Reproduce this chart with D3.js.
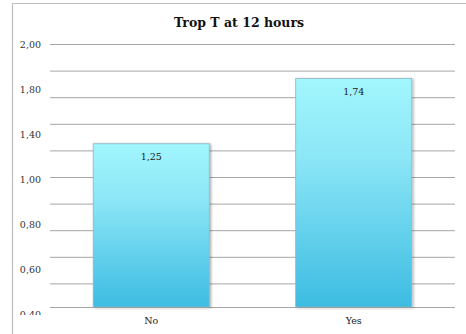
<!DOCTYPE html>
<html>
<head>
<meta charset="utf-8">
<script src="https://cdn.jsdelivr.net/npm/d3@7/dist/d3.min.js"></script>
<style>
  html, body { margin: 0; padding: 0; background: #fff; }
  svg { display: block; }
</style>
</head>
<body>
<script>
// Chart data
const categories = ["No", "Yes"];
const values = [1.25, 1.74];
const valueLabels = ["1,25", "1,74"];
const gridValues = [0, 0.2, 0.4, 0.6, 0.8, 1.0, 1.2, 1.4, 1.6, 1.8, 2.0];
const yTickLabels = ["2,00", "1,80", "1,40", "1,00", "0,80", "0,60", "0,40"];
const title = "Trop T at 12 hours";

const W = 466, H = 334;
const plot = { left: 50, right: 455, top: 44, bottom: 307 };
const font = "'DejaVu Serif', 'Liberation Serif', serif";

const svg = d3.select("body").append("svg")
  .attr("width", W).attr("height", H);

const defs = svg.append("defs");
const grad = defs.append("linearGradient")
  .attr("id", "barFill").attr("x1", 0).attr("y1", 0).attr("x2", 0).attr("y2", 1);
grad.append("stop").attr("offset", "0%").attr("stop-color", "#a2f6fd");
grad.append("stop").attr("offset", "35%").attr("stop-color", "#8be6f6");
grad.append("stop").attr("offset", "100%").attr("stop-color", "#3dbce2");

// Labels on the value axis are cut at the bottom of the plot
defs.append("clipPath").attr("id", "labelClip")
  .append("rect").attr("x", 0).attr("y", 0).attr("width", plot.left).attr("height", 315);

const shadow = defs.append("filter").attr("id", "shadow")
  .attr("x", "-10%").attr("y", "-10%").attr("width", "130%").attr("height", "130%");
shadow.append("feDropShadow").attr("dx", 1.5).attr("dy", 0.5).attr("stdDeviation", 1)
  .attr("flood-color", "#000").attr("flood-opacity", 0.3);

// Chart frame (left and top edges)
svg.append("path")
  .attr("d", `M12.5,${H} L12.5,3.5 L${W},3.5`)
  .attr("fill", "none").attr("stroke", "#bdbdbd").attr("stroke-width", 1.2);

// Scales
const y = d3.scaleLinear().domain([0, 2]).range([plot.bottom + 3, plot.top]);
const x = d3.scaleBand().domain(categories)
  .range([plot.left, plot.right]).paddingInner(0.427).paddingOuter(0.2135);
const yLabelPos = d3.scalePoint().domain(yTickLabels).range([plot.top, 314]);

// Gridlines
svg.append("g")
  .attr("transform", `translate(${plot.left},0)`)
  .call(d3.axisLeft(y).tickValues(gridValues.slice(1)).tickSize(-(plot.right - plot.left)).tickFormat(""))
  .call(g => g.select(".domain").remove())
  .call(g => g.selectAll(".tick line").attr("stroke", "#a6a6a6").attr("stroke-width", 1));

// Baseline
svg.append("line")
  .attr("x1", plot.left).attr("x2", plot.right)
  .attr("y1", plot.bottom + 0.5).attr("y2", plot.bottom + 0.5)
  .attr("stroke", "#a6a6a6");

// Y tick labels
svg.append("g")
  .attr("clip-path", "url(#labelClip)")
  .append("g")
  .attr("transform", `translate(41,0)`)
  .call(d3.axisLeft(yLabelPos).tickSize(0).tickPadding(0))
  .call(g => g.select(".domain").remove())
  .call(g => g.selectAll("text").attr("font-family", font).attr("font-size", 9.5).attr("fill", "#333"));

// Bars
svg.append("g").selectAll("rect")
  .data(values)
  .join("rect")
  .attr("x", (d, i) => x(categories[i]))
  .attr("y", d => y(d))
  .attr("width", x.bandwidth())
  .attr("height", d => plot.bottom - y(d))
  .attr("fill", "url(#barFill)")
  .attr("stroke", "#8fb4c0").attr("stroke-width", 0.8)
  .attr("filter", "url(#shadow)");

// Value labels
svg.append("g").selectAll("text")
  .data(values)
  .join("text")
  .attr("x", (d, i) => x(categories[i]) + x.bandwidth() / 2)
  .attr("y", d => y(d) + 16)
  .attr("text-anchor", "middle")
  .attr("font-family", font).attr("font-size", 9.5).attr("fill", "#222")
  .text((d, i) => valueLabels[i]);

// X axis labels
svg.append("g")
  .attr("transform", `translate(0,${plot.bottom + 10})`)
  .call(d3.axisBottom(x).tickSize(0).tickPadding(0))
  .call(g => g.select(".domain").remove())
  .call(g => g.selectAll("text").attr("font-family", font).attr("font-size", 9.5).attr("fill", "#222"));

// Title
svg.append("text")
  .attr("x", 239).attr("y", 27)
  .attr("text-anchor", "middle")
  .attr("font-family", font).attr("font-weight", "bold").attr("font-size", 12.5).attr("fill", "#111")
  .text(title);
</script>
</body>
</html>
